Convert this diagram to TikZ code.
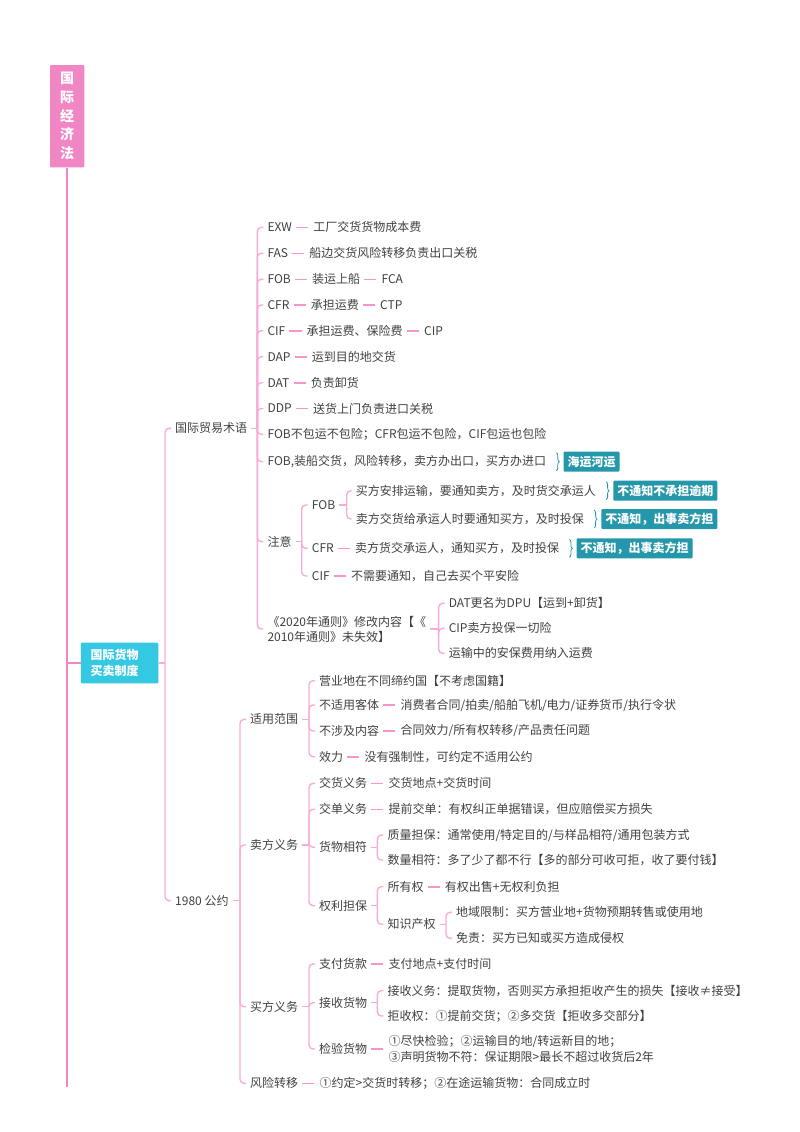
\documentclass[tikz,border=0pt]{standalone}
\usepackage{fontspec}
\setmainfont{Noto Sans CJK SC}
\usepackage{tikz}
\usetikzlibrary{positioning, calc, decorations.pathreplacing}
\definecolor{rootpink}{RGB}{241, 134, 196}
\definecolor{linepink}{RGB}{247, 172, 214}
\definecolor{linkpink}{RGB}{245, 150, 202}
\definecolor{catcyan}{RGB}{52, 200, 226}
\definecolor{tagteal}{RGB}{37, 151, 170}
\definecolor{txtgray}{RGB}{64, 64, 64}

\begin{document}
\begin{tikzpicture}[x=1pt, y=-1pt,
		rootbox/.style={rectangle, rounded corners=1pt, fill=rootpink, text=white,
			minimum width=34.3pt, minimum height=102.3pt, inner sep=0pt,
			align=center, font=\fontsize{14}{18.7}\selectfont\bfseries},
		catbox/.style={rectangle, rounded corners=1pt, fill=catcyan, text=white,
			text width=58pt, inner xsep=9.7pt, minimum height=40.6pt,
			align=left, font=\fontsize{12}{16.7}\selectfont\bfseries},
		txt/.style={anchor=west, inner xsep=4pt, inner ysep=2pt, text=txtgray,
			align=left, font=\fontsize{12}{15}\selectfont},
		note/.style={rectangle, rounded corners=1pt, fill=tagteal, text=white,
			inner xsep=4pt, inner ysep=0pt, minimum height=20pt,
			font=\fontsize{12}{15}\selectfont\bfseries},
		trunk/.style={draw=rootpink, line width=2pt},
		br/.style={draw=linepink, line width=1.4pt, rounded corners=4pt},
		link/.style={draw=linkpink, line width=1.6pt, shorten >=1pt},
		curly/.style={draw=tagteal, line width=0.8pt, decorate,
			decoration={brace, amplitude=3pt}}
		]
		\useasboundingbox (0,0) rectangle (800,1132);
		
		% Racine
		\node[rootbox] (root) at (67.2, 116.2) {国\\际\\经\\济\\法};
		\coordinate (trunkend) at (67.2, 1086.7);
		\draw[trunk] (root.south) -- (root.south |- trunkend);
		
		\node[catbox, anchor=west] (cat) at (80.7, 663) {国际货物\\买卖制度};
		\draw[trunk] (root.south |- cat.west) -- (cat.west);
		
		% Niveau 2
		\node[txt] (gjmy) at (171, 428.3) {国际贸易术语};
		\node[txt] (gy)   at (171, 900.7) {1980 公约};
		\coordinate (cat-b) at ($(cat.east -| gjmy.west)+(-6,0)$);
		\draw[br] (cat.east) -- (cat-b);
		\foreach \c in {gjmy, gy}
		\draw[br] (cat-b) |- (\c.west);
		
		% Termes commerciaux
		\node[txt] (exw)  at (263.3, 227.3) {EXW};
		\node[txt] (fas)  at (263.3, 253.3) {FAS};
		\node[txt] (fob)  at (263.3, 279.3) {FOB};
		\node[txt] (cfr)  at (263.3, 305.0) {CFR};
		\node[txt] (cif)  at (263.3, 330.7) {CIF};
		\node[txt] (dap)  at (263.3, 356.7) {DAP};
		\node[txt] (dat)  at (263.3, 382.7) {DAT};
		\node[txt] (ddp)  at (263.3, 408.5) {DDP};
		\node[txt] (bbx)  at (263.3, 434.3) {FOB不包运不包险；CFR包运不包险，CIF包运也包险};
		\node[txt] (zcjh) at (263.3, 461.7) {FOB,装船交货，风险转移，卖方办出口，买方办进口};
		\node[txt] (zy)   at (263.3, 541.7) {注意};
		\node[txt] (tz)   at (263.3, 629.0) {《2020年通则》修改内容【《\\2010年通则》未失效】};
		
		\node[txt, right=13pt of exw] (exwd) {工厂交货货物成本费};
		\node[txt, right=13pt of fas] (fasd) {船边交货风险转移负责出口关税};
		\node[txt, right=13pt of fob] (fobd) {装运上船};
		\node[txt, right=13pt of fobd] (fobe) {FCA};
		\node[txt, right=13pt of cfr] (cfrd) {承担运费};
		\node[txt, right=13pt of cfrd] (cfre) {CTP};
		\node[txt, right=13pt of cif] (cifd) {承担运费、保险费};
		\node[txt, right=13pt of cifd] (cife) {CIP};
		\node[txt, right=13pt of dap] (dapd) {运到目的地交货};
		\node[txt, right=13pt of dat] (datd) {负责卸货};
		\node[txt, right=13pt of ddp] (ddpd) {送货上门负责进口关税};
		\foreach \a/\b in {exw/exwd, fas/fasd, fob/fobd, fobd/fobe, cfr/cfrd, cfrd/cfre,
			cif/cifd, cifd/cife, dap/dapd, dat/datd, ddp/ddpd}
		\draw[link] (\a) -- (\b);
		
		\coordinate (gjmy-b) at ($(gjmy.east -| exw.west)+(-6,0)$);
		\draw[br] (gjmy.east) -- (gjmy-b);
		\foreach \c in {exw, fas, fob, cfr, cif, dap, dat, ddp, bbx, zcjh, zy, tz}
		\draw[br] (gjmy-b) |- (\c.west);
		
		\node[note, right=13pt of zcjh] (hyhy) {海运河运};
		\draw[curly] ($(zcjh.east)+(6,-9)$) -- ($(zcjh.east)+(6,9)$);
		
		% Notes
		\node[txt] (zfob) at (307.7, 505.0) {FOB};
		\node[txt] (zcfr) at (307.7, 548.3) {CFR};
		\node[txt] (zcif) at (307.7, 576.0) {CIF};
		\node[txt, right=13pt of zcfr] (zcfrd) {卖方货交承运人，通知买方，及时投保};
		\node[txt, right=13pt of zcif] (zcifd) {不需要通知，自己去买个平安险};
		\draw[link] (zcfr) -- (zcfrd);
		\draw[link] (zcif) -- (zcifd);
		\coordinate (zy-b) at ($(zy.east -| zfob.west)+(-6,0)$);
		\draw[br] (zy.east) -- (zy-b);
		\foreach \c in {zfob, zcfr, zcif}
		\draw[br] (zy-b) |- (\c.west);
		
		\node[txt] (zf1) at (351.7, 490.7) {买方安排运输，要通知卖方，及时货交承运人};
		\node[txt] (zf2) at (351.7, 519.0) {卖方交货给承运人时要通知买方，及时投保};
		\coordinate (zfob-b) at ($(zfob.east -| zf1.west)+(-5,0)$);
		\draw[br] (zfob.east) -- (zfob-b);
		\foreach \c in {zf1, zf2}
		\draw[br] (zfob-b) |- (\c.west);
		
		\node[note, right=13pt of zf1] (yq) {不通知不承担逾期};
		\draw[curly] ($(zf1.east)+(6,-9)$) -- ($(zf1.east)+(6,9)$);
		\node[note, right=13pt of zf2] (cs1) {不通知，出事卖方担};
		\draw[curly] ($(zf2.east)+(6,-9)$) -- ($(zf2.east)+(6,9)$);
		\node[note, right=13pt of zcfrd] (cs2) {不通知，出事卖方担};
		\draw[curly] ($(zcfrd.east)+(6,-9)$) -- ($(zcfrd.east)+(6,9)$);
		
		% Incoterms 2020
		\node[txt] (tz1) at (444.6, 603.3) {DAT更名为DPU【运到+卸货】};
		\node[txt] (tz2) at (444.6, 628.3) {CIP卖方投保一切险};
		\node[txt] (tz3) at (444.6, 653.3) {运输中的安保费用纳入运费};
		\coordinate (tz-b) at ($(tz.east -| tz1.west)+(-6,0)$);
		\draw[br] (tz.east) -- (tz-b);
		\foreach \c in {tz1, tz2, tz3}
		\draw[br] (tz-b) |- (\c.west);
		
		% Convention 1980
		\node[txt] (sy)  at (246, 719.3)  {适用范围};
		\node[txt] (mf)  at (246, 845.0)  {卖方义务};
		\node[txt] (buy) at (246, 1006.7) {买方义务};
		\node[txt] (fx)  at (246, 1083.3) {风险转移};
		\node[txt, right=13pt of fx] (fxd) {①约定>交货时转移；②在途运输货物：合同成立时};
		\draw[link] (fx) -- (fxd);
		\coordinate (gy-b) at ($(gy.east -| sy.west)+(-6,0)$);
		\draw[br] (gy.east) -- (gy-b);
		\foreach \c in {sy, mf, buy, fx}
		\draw[br] (gy-b) |- (\c.west);
		
		% Champ d'application
		\node[txt] (sy1) at (315, 680.7) {营业地在不同缔约国【不考虑国籍】};
		\node[txt] (sy2) at (315, 705.0) {不适用客体};
		\node[txt] (sy3) at (315, 731.0) {不涉及内容};
		\node[txt] (sy4) at (315, 756.7) {效力};
		\node[txt, right=13pt of sy2] (sy2d) {消费者合同/拍卖/船舶飞机/电力/证券货币/执行令状};
		\node[txt, right=13pt of sy3] (sy3d) {合同效力/所有权转移/产品责任问题};
		\node[txt, right=13pt of sy4] (sy4d) {没有强制性，可约定不适用公约};
		\foreach \a/\b in {sy2/sy2d, sy3/sy3d, sy4/sy4d}
		\draw[link] (\a) -- (\b);
		\coordinate (sy-b) at ($(sy.east -| sy1.west)+(-6,0)$);
		\draw[br] (sy.east) -- (sy-b);
		\foreach \c in {sy1, sy2, sy3, sy4}
		\draw[br] (sy-b) |- (\c.west);
		
		% Obligations du vendeur
		\node[txt] (mf1) at (315, 783.3) {交货义务};
		\node[txt] (mf2) at (315, 809.3) {交单义务};
		\node[txt] (mf3) at (315, 847.3) {货物相符};
		\node[txt] (mf4) at (315, 905.7) {权利担保};
		\node[txt, right=13pt of mf1] (mf1d) {交货地点+交货时间};
		\node[txt, right=13pt of mf2] (mf2d) {提前交单：有权纠正单据错误，但应赔偿买方损失};
		\foreach \a/\b in {mf1/mf1d, mf2/mf2d}
		\draw[link] (\a) -- (\b);
		\coordinate (mf-b) at ($(mf.east -| mf1.west)+(-6,0)$);
		\draw[br] (mf.east) -- (mf-b);
		\foreach \c in {mf1, mf2, mf3, mf4}
		\draw[br] (mf-b) |- (\c.west);
		
		\node[txt] (mf31) at (383.3, 835.0) {质量担保：通常使用/特定目的/与样品相符/通用包装方式};
		\node[txt] (mf32) at (383.3, 860.0) {数量相符：多了少了都不行【多的部分可收可拒，收了要付钱】};
		\coordinate (mf3-b) at ($(mf3.east -| mf31.west)+(-6,0)$);
		\draw[br] (mf3.east) -- (mf3-b);
		\foreach \c in {mf31, mf32}
		\draw[br] (mf3-b) |- (\c.west);
		
		\node[txt] (mf41) at (383.3, 886.7) {所有权};
		\node[txt] (mf42) at (383.3, 924.3) {知识产权};
		\node[txt, right=13pt of mf41] (mf41d) {有权出售+无权利负担};
		\draw[link] (mf41) -- (mf41d);
		\coordinate (mf4-b) at ($(mf4.east -| mf41.west)+(-6,0)$);
		\draw[br] (mf4.east) -- (mf4-b);
		\foreach \c in {mf41, mf42}
		\draw[br] (mf4-b) |- (\c.west);
		
		\node[txt] (mf421) at (452, 912.3) {地域限制：买方营业地+货物预期转售或使用地};
		\node[txt] (mf422) at (452, 938.3) {免责：买方已知或买方造成侵权};
		\coordinate (mf42-b) at ($(mf42.east -| mf421.west)+(-6,0)$);
		\draw[br] (mf42.east) -- (mf42-b);
		\foreach \c in {mf421, mf422}
		\draw[br] (mf42-b) |- (\c.west);
		
		% Obligations de l'acheteur
		\node[txt] (bf1) at (315, 964.0)  {支付货款};
		\node[txt] (bf2) at (315, 1002.7) {接收货物};
		\node[txt] (bf3) at (315, 1049.0) {检验货物};
		\node[txt, right=13pt of bf1] (bf1d) {支付地点+支付时间};
		\node[txt, right=13pt of bf3, font=\fontsize{12}{16.7}\selectfont] (bf3d)
		{①尽快检验；②运输目的地/转运新目的地；\\③声明货物不符：保证期限>最长不超过收货后2年};
		\foreach \a/\b in {bf1/bf1d, bf3/bf3d}
		\draw[link] (\a) -- (\b);
		\coordinate (buy-b) at ($(buy.east -| bf1.west)+(-6,0)$);
		\draw[br] (buy.east) -- (buy-b);
		\foreach \c in {bf1, bf2, bf3}
		\draw[br] (buy-b) |- (\c.west);
		
		\node[txt] (bf21) at (383.3, 990.7) {接收义务：提取货物，否则买方承担拒收产生的损失【接收≠接受】};
		\node[txt] (bf22) at (383.3, 1016.0) {拒收权：①提前交货；②多交货【拒收多交部分】};
		\coordinate (bf2-b) at ($(bf2.east -| bf21.west)+(-6,0)$);
		\draw[br] (bf2.east) -- (bf2-b);
		\foreach \c in {bf21, bf22}
		\draw[br] (bf2-b) |- (\c.west);
	\end{tikzpicture}
\end{document}
